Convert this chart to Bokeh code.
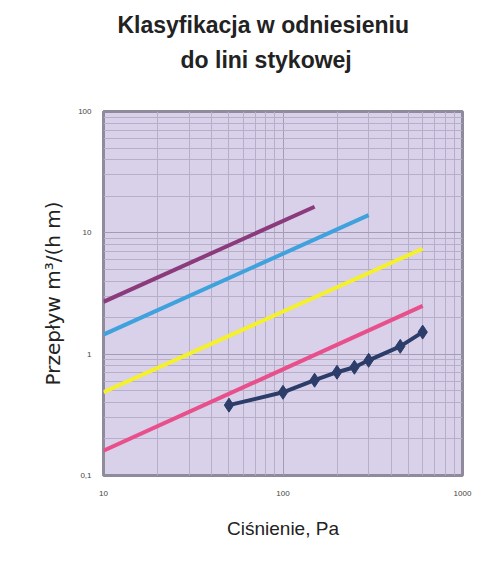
from bokeh.plotting import figure
from bokeh.models import Title, FixedTicker, CustomJSTickFormatter
from bokeh.embed import file_html
from bokeh.resources import INLINE

# Class lines (start/end points, log-log straight lines)
class1_x = [10, 150]
class1_y = [2.7, 16.4]
class2_x = [10, 300]
class2_y = [1.45, 14.0]
class3_x = [10, 600]
class3_y = [0.485, 7.4]
class4_x = [10, 600]
class4_y = [0.16, 2.5]

# Measured series
meas_x = [50, 100, 150, 200, 250, 300, 450, 600]
meas_y = [0.38, 0.485, 0.61, 0.71, 0.78, 0.89, 1.16, 1.52]

x_ticks = [10, 100, 1000]
x_tick_labels = ["10", "100", "1000"]
y_ticks = [0.1, 1, 10, 100]
y_tick_labels = ["0,1", "1", "10", "100"]

title_line1 = "Klasyfikacja w odniesieniu"
title_line2 = "do lini stykowej"

# log grid: decades and 2..9 subdivisions
x_decades = [10, 100]
y_decades = [0.1, 1, 10]
subdiv = [2, 3, 4, 5, 6, 7, 8, 9]
x_minor = [d * k for d in x_decades for k in subdiv]
y_minor = [d * k for d in y_decades for k in subdiv]

p = figure(width=480, height=560, x_axis_type="log", y_axis_type="log",
           x_range=(10, 1000), y_range=(0.1, 100),
           output_backend="svg", toolbar_location=None,
           min_border_left=103, min_border_right=18,
           min_border_top=111, min_border_bottom=85)

p.add_layout(Title(text=title_line2, align="left", text_font_size="23px",
                   text_font="Liberation Sans", text_font_style="bold",
                   offset=77, text_color="#222222", standoff=78), "above")
p.add_layout(Title(text=title_line1, align="left", text_font_size="23px",
                   text_font="Liberation Sans", text_font_style="bold",
                   offset=14, text_color="#222222", standoff=-64), "above")

p.background_fill_color = "#d9d1ea"
p.border_fill_color = "white"
p.outline_line_color = "#8f8a9c"
p.outline_line_width = 3

for ax in (p.xaxis, p.yaxis):
    ax.axis_line_color = None
    ax.major_tick_line_color = None
    ax.minor_tick_line_color = None
    ax.major_label_text_font = "Liberation Sans"
    ax.major_label_text_font_size = "8px"
    ax.major_label_text_color = "#444444"
    ax.axis_label_text_font_style = "normal"
    ax.axis_label_text_color = "#222222"

p.xaxis.axis_label_text_font = "Liberation Sans"
p.xaxis.axis_label_text_font_size = "19px"
p.yaxis.axis_label_text_font = "DejaVu Sans"
p.yaxis.axis_label_text_font_size = "20px"

p.xaxis.ticker = FixedTicker(ticks=x_ticks)
p.yaxis.ticker = FixedTicker(ticks=y_ticks)
fmt_code = "const i = tvals.findIndex(t => Math.abs(t - tick) < 1e-9 * Math.max(1, t)); return i >= 0 ? labs[i] : '';"
p.xaxis.formatter = CustomJSTickFormatter(args=dict(labs=x_tick_labels, tvals=x_ticks), code=fmt_code)
p.yaxis.formatter = CustomJSTickFormatter(args=dict(labs=y_tick_labels, tvals=y_ticks), code=fmt_code)
p.xaxis.major_label_standoff = 9
p.yaxis.major_label_standoff = 6
p.xaxis.axis_label = "Ciśnienie, Pa"
p.yaxis.axis_label = "Przepływ m³/(h m)"
p.xaxis.axis_label_standoff = 19
p.yaxis.axis_label_standoff = 10

p.xgrid.ticker = FixedTicker(ticks=x_ticks, minor_ticks=x_minor)
p.ygrid.ticker = FixedTicker(ticks=y_ticks, minor_ticks=y_minor)
p.xgrid.grid_line_color = "#a39cb5"
p.ygrid.grid_line_color = "#a39cb5"
p.xgrid.grid_line_width = 1
p.ygrid.grid_line_width = 1
p.xgrid.minor_grid_line_color = "#b7afc9"
p.ygrid.minor_grid_line_color = "#b7afc9"

p.line(class1_x, class1_y, line_color="#8b3a7c", line_width=4)
p.line(class2_x, class2_y, line_color="#3fa2dc", line_width=4)
p.line(class3_x, class3_y, line_color="#f4f12c", line_width=4)
p.line(class4_x, class4_y, line_color="#e8508c", line_width=4)

p.line(meas_x, meas_y, line_color="#2b3d68", line_width=4)
p.scatter(meas_x, meas_y, marker="diamond", size=14, fill_color="#2b3d68", line_color="#2b3d68")

open("out.html", "w").write(file_html(p, INLINE))
